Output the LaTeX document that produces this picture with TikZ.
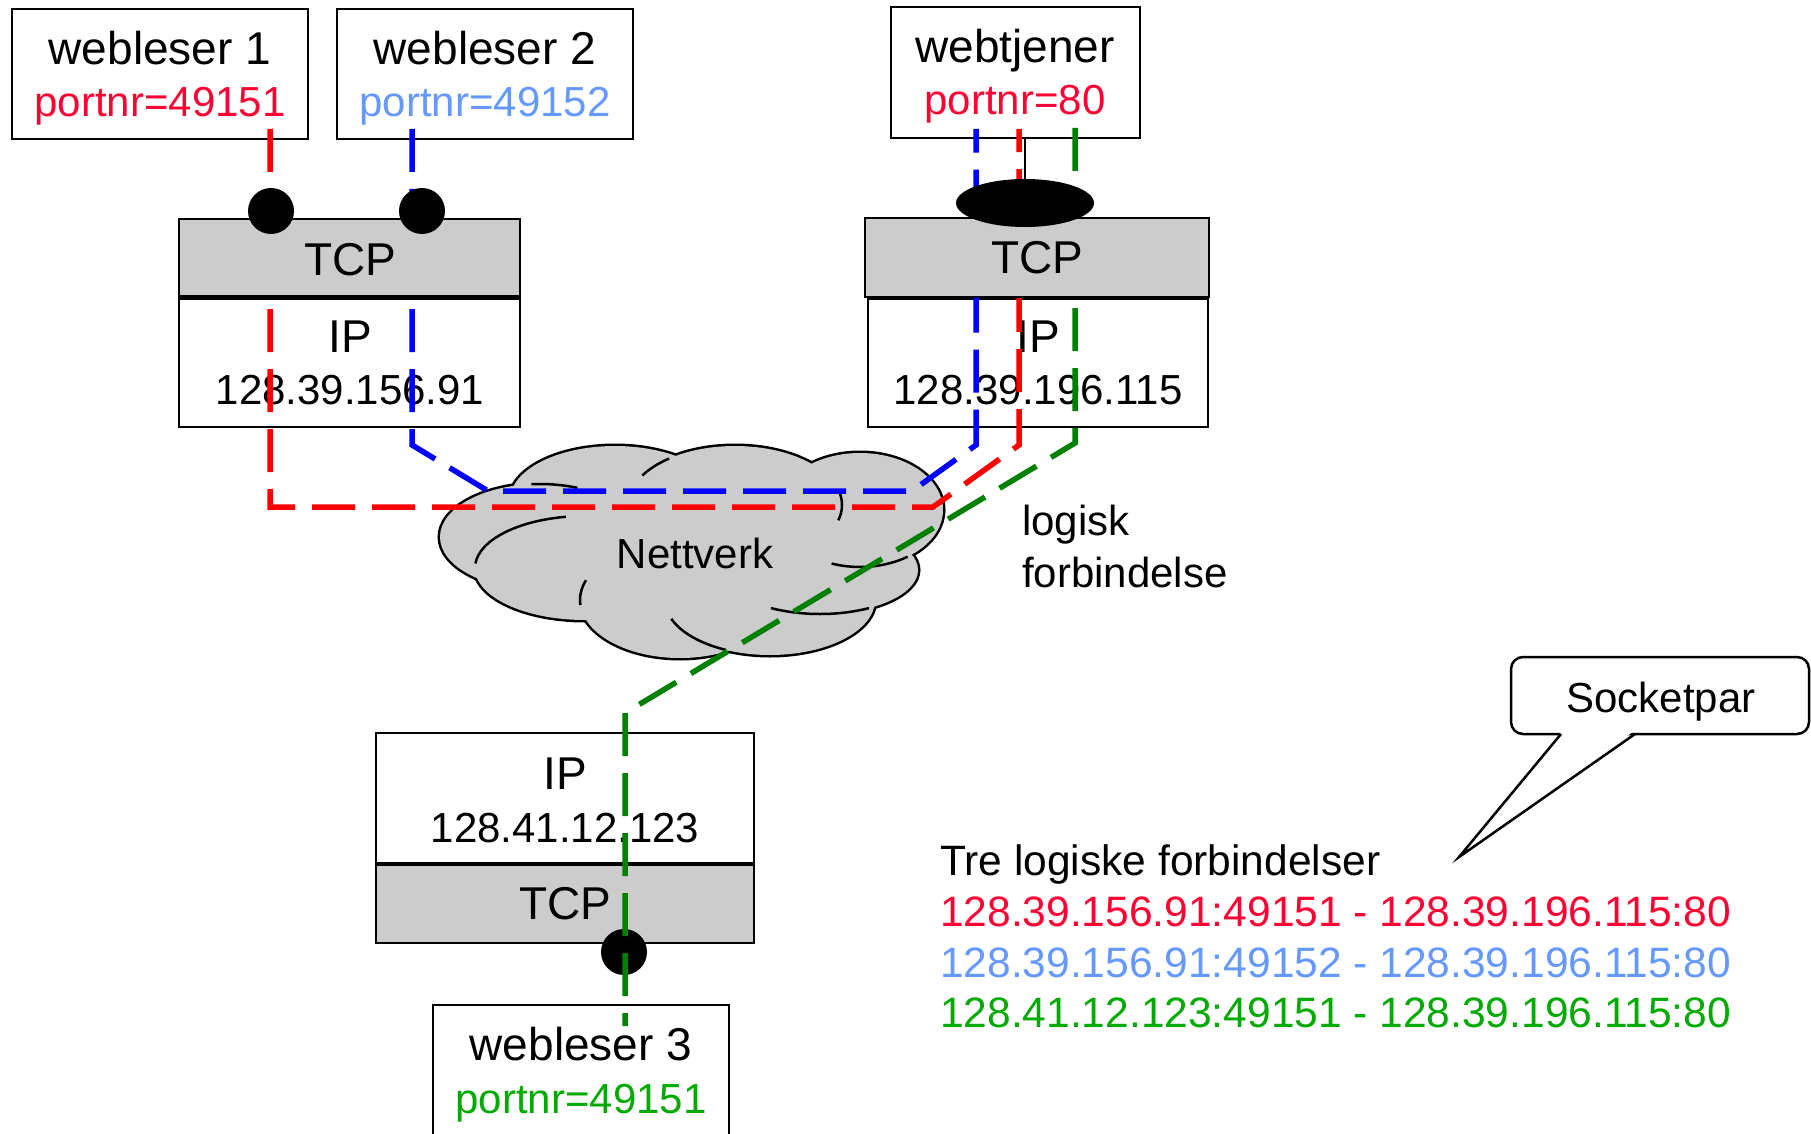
\documentclass[tikz,border=0pt]{standalone}
\usepackage{fontspec}
\setmainfont{Liberation Sans}
\usetikzlibrary{shapes.geometric}

\definecolor{boxgray}{HTML}{CCCCCC}
\definecolor{linered}{HTML}{FF0000}
\definecolor{lineblue}{HTML}{0000FF}
\definecolor{linegreen}{HTML}{008000}
\definecolor{textred}{HTML}{FF0033}
\definecolor{textblue}{HTML}{6699FF}
\definecolor{textgreen}{HTML}{00AA00}

\tikzset{
  box/.style={draw=black, line width=2.8pt, fill=white, inner sep=0pt, outer sep=0pt},
  tcpbox/.style={box, fill=boxgray},
  big/.style={font={\fontsize{46}{55}\selectfont}, inner sep=0pt, anchor=base},
  small/.style={font={\fontsize{42}{50}\selectfont}, inner sep=0pt, anchor=base},
  list/.style={font={\fontsize{42.5}{50}\selectfont}, inner sep=0pt, anchor=base west},
  conn/.style={line width=5.5pt, dash pattern=on 43pt off 17pt},
  sockdot/.style={circle, fill=black, minimum size=46pt, inner sep=0pt},
  outline/.style={line width=2.5pt},
}

\begin{document}
\begin{tikzpicture}[x=1pt, y=-1pt]
\useasboundingbox (0,0) rectangle (1811,1134);

% ---- the network cloud ----
\foreach \cx/\cy/\rx/\ry in {540/537/100/53, 615/500/105/54, 735/505/107/59,
    860/510/83/57, 820/570/98/44, 770/600/105/55, 680/600/100/58, 585/568/110/52}
  \draw[line width=5pt] (\cx,\cy) ellipse [x radius=\rx pt, y radius=\ry pt];
\foreach \cx/\cy/\rx/\ry in {540/537/100/53, 615/500/105/54, 735/505/107/59,
    860/510/83/57, 820/570/98/44, 770/600/105/55, 680/600/100/58, 585/568/110/52}
  \fill[boxgray] (\cx,\cy) ellipse [x radius=\rx pt, y radius=\ry pt];
% inner puff edges
\draw[outline] ([shift={(68:100pt and 53pt)}]540,537) arc[start angle=68, end angle=95, x radius=100pt, y radius=53pt];
\draw[outline] ([shift={(128:107pt and 59pt)}]735,505) arc[start angle=128, end angle=150, x radius=107pt, y radius=59pt];
\draw[outline] ([shift={(15:107pt and 59pt)}]735,505) arc[start angle=15, end angle=-15, x radius=107pt, y radius=59pt];
\draw[outline] ([shift={(-110:83pt and 57pt)}]860,510) arc[start angle=-110, end angle=-55, x radius=83pt, y radius=57pt];
\draw[outline] ([shift={(-120:98pt and 44pt)}]820,570) arc[start angle=-120, end angle=-60, x radius=98pt, y radius=44pt];
\draw[outline] ([shift={(200:105pt and 55pt)}]770,600) arc[start angle=200, end angle=245, x radius=105pt, y radius=55pt];
\draw[outline] ([shift={(160:100pt and 58pt)}]680,600) arc[start angle=160, end angle=185, x radius=100pt, y radius=58pt];
\draw[outline] ([shift={(100:110pt and 52pt)}]585,568) arc[start angle=100, end angle=175, x radius=110pt, y radius=52pt];
\node[small] (net) at (695,568) {Nettverk};

% ---- application boxes and IP boxes ----
\node[box, minimum width=296pt, minimum height=130pt] (b1) at (160,74) {};
\node[box, minimum width=296pt, minimum height=130pt] (b2) at (485,74) {};
\node[box, minimum width=249pt, minimum height=131pt] (srv) at (1015.5,72.5) {};
\node[box, minimum width=341pt, minimum height=128.5pt] (ip1) at (349.5,362.75) {};
\node[box, minimum width=340pt, minimum height=128pt] (ip2) at (1038,363) {};
\node[box, minimum width=378pt, minimum height=130pt] (ip3) at (565,798) {};
\node[tcpbox, minimum width=378pt, minimum height=78pt] (tcp3) at (565,904) {};
\node[box, minimum width=296pt, minimum height=150pt] (b3) at (581,1080) {};

\node[big] at (160,65) {webleser 1};
\node[small, text=textred] at (160,117) {portnr=49151};
\node[big] at (485,65) {webleser 2};
\node[small, text=textblue] at (485,117) {portnr=49152};
\node[big] at (1015,63) {webtjener};
\node[small, text=textred] at (1015,115) {portnr=80};
\node[big] at (350,352) {IP};
\node[small] at (350,404) {128.39.156.91};
\node[big] at (1038,352) {IP};
\node[small] at (1038,404) {128.39.196.115};
\node[big] at (565,789) {IP};
\node[small] at (565,842) {128.41.12.123};
\node[big] at (565,919) {TCP};
\node[big] at (581,1060) {webleser 3};
\node[small, text=textgreen] at (581,1113) {portnr=49151};

% ---- socket of webleser 3 (under its connection) ----
\node[sockdot] (d3) at (624,952) {};

% ---- logical connections ----
\coordinate (r0) at (270,129);
\coordinate (r1) at (270,507);
\coordinate (r2) at (933,507);
\coordinate (r3) at (1019,445);
\coordinate (r4) at (1019,129);
\draw[conn, linered] (r0) -- (r1) -- (r2) -- (r3) -- (r4);

\coordinate (u0) at (412,129);
\coordinate (u1) at (412,445);
\coordinate (u2) at (488,491);
\coordinate (u3) at (912,491);
\coordinate (u4) at (976,445);
\coordinate (u5) at (976,129);
\draw[conn, lineblue] (u0) -- (u1) -- (u2) -- (u3) -- (u4) -- (u5);

\coordinate (g0) at (1075,128);
\coordinate (g1) at (1075,443);
\coordinate (g2) at (625,713);
\coordinate (g3) at (625,1026);
\draw[conn, linegreen] (g0) -- (g1) -- (g2) -- (g3);

% ---- TCP layers of the upper hosts, over the connections ----
\node[tcpbox, minimum width=341pt, minimum height=77pt] (tcp1) at (349.5,257.5) {};
\node[tcpbox, minimum width=344pt, minimum height=79pt] (tcp2) at (1037,257.5) {};
\node[big] at (350,275) {TCP};
\node[big] at (1037,273) {TCP};

% ---- sockets ----
\node[sockdot] (d1) at (271,211) {};
\node[sockdot] (d2) at (422,211) {};
\node[ellipse, fill=black, minimum width=138pt, minimum height=48pt, inner sep=0pt] (ds) at (1025,203) {};
\draw[line width=2pt] (srv.south -| ds.north) -- (ds.north);

\node[small, anchor=base west] at (1022,535) {logisk};
\node[small, anchor=base west] at (1022,587) {forbindelse};

% ---- socket pairs ----
\node[list] at (940,875) {Tre logiske forbindelser};
\node[list, text=textred] at (940,926) {128.39.156.91:49151 - 128.39.196.115:80};
\node[list, text=textblue] at (940,977) {128.39.156.91:49152 - 128.39.196.115:80};
\node[list, text=textgreen] at (940,1027) {128.41.12.123:49151 - 128.39.196.115:80};

% ---- callout ----
\node[draw=black, line width=2.5pt, fill=white, rounded corners=12pt,
      minimum width=298pt, minimum height=77pt, inner sep=0pt] (sock) at (1660,695.5) {};
\coordinate (tip) at (1459,857);
\fill[white] (1562,731) -- (tip) -- (1634,731) -- cycle;
\draw[line width=2.5pt] (1561,734) -- (tip) -- (1635,734);
\node[small] at (1661,712) {Socketpar};
\end{tikzpicture}
\end{document}
